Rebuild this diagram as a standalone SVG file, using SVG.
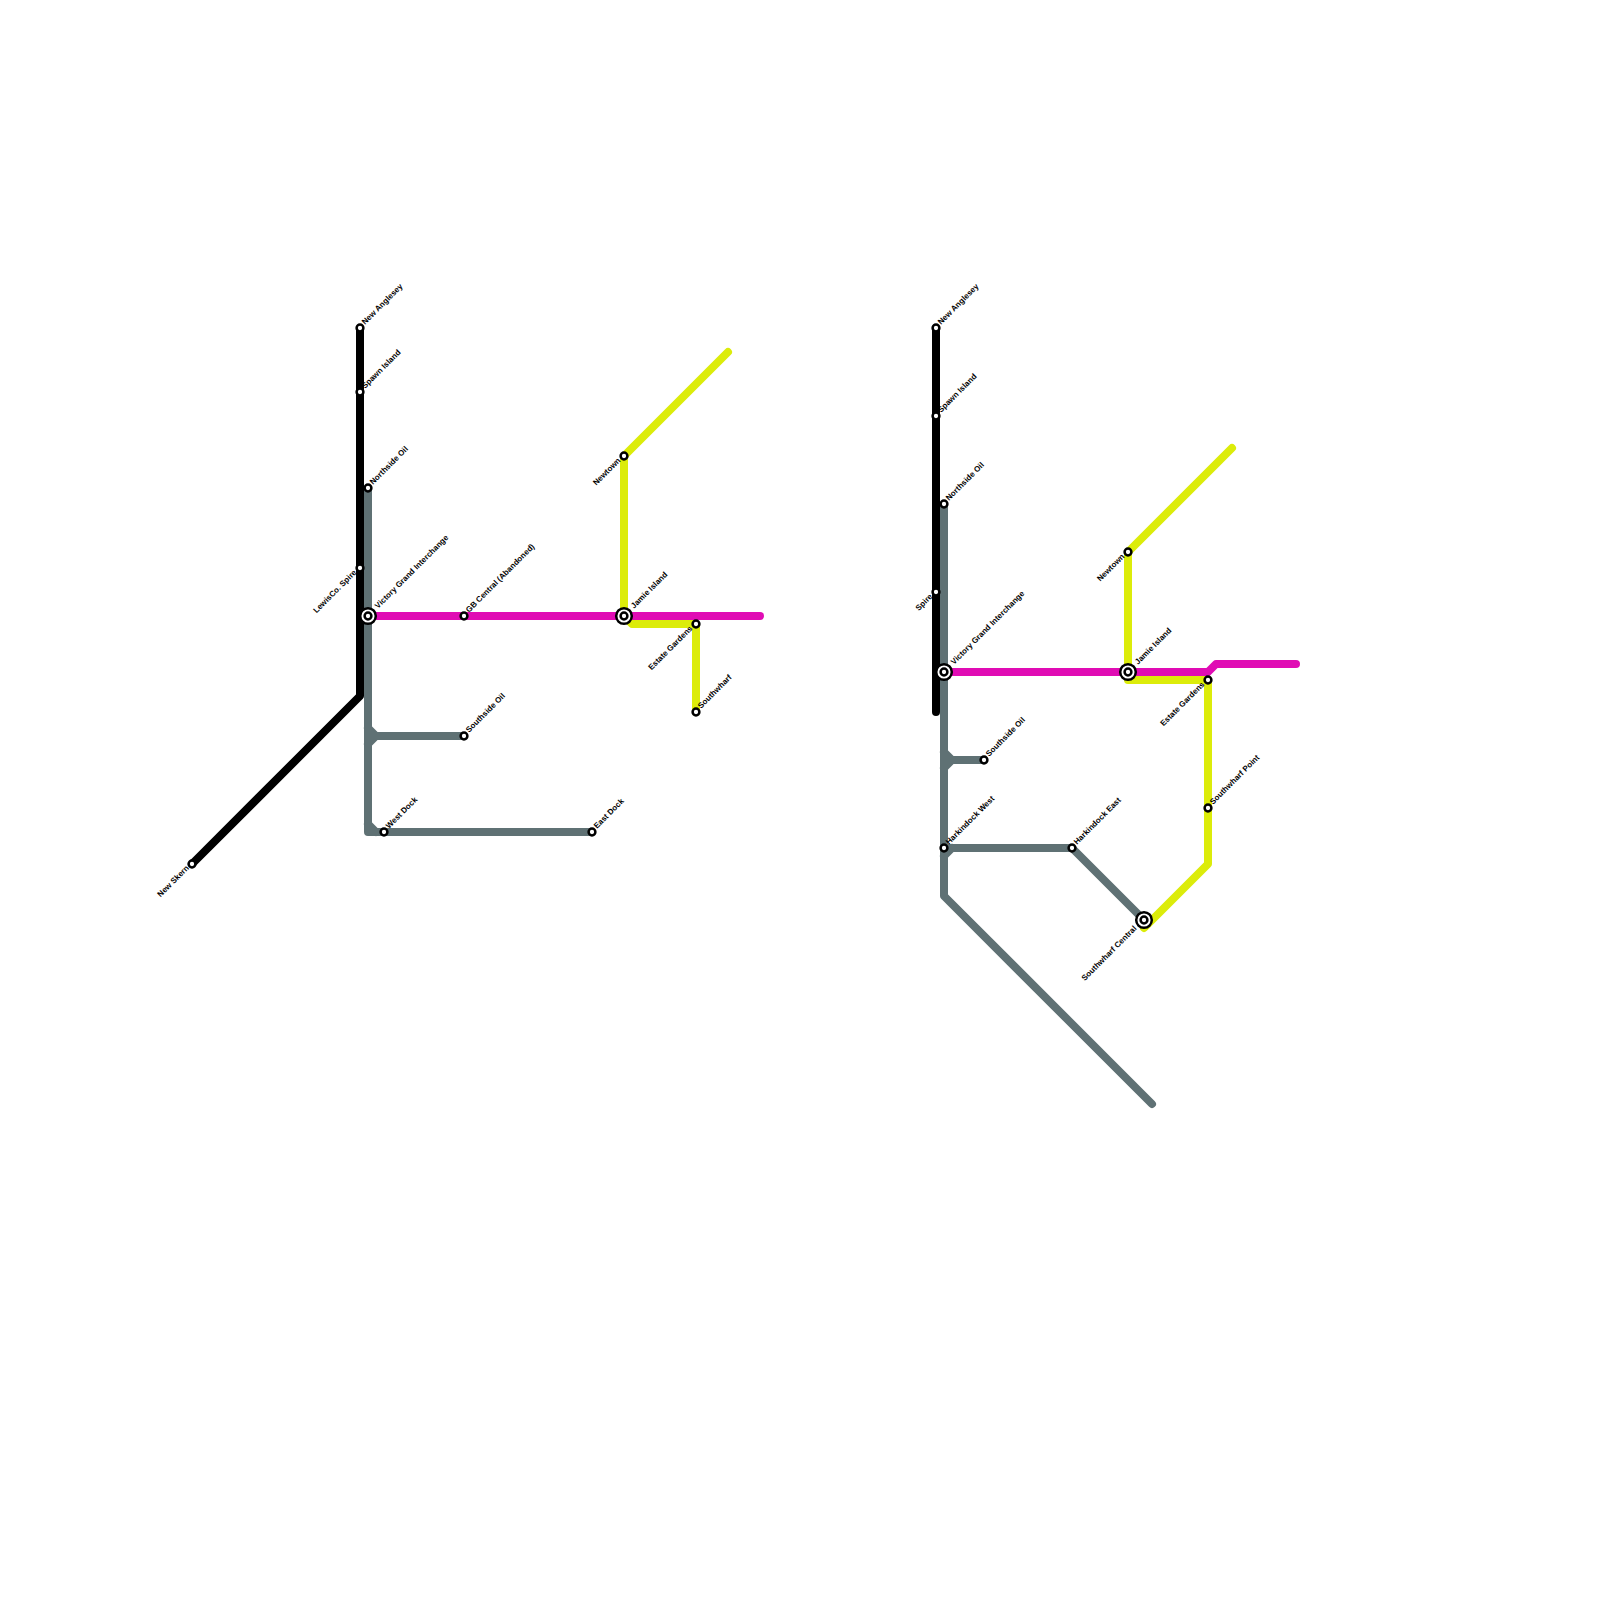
<svg xmlns="http://www.w3.org/2000/svg" width="1600" height="1600" viewBox="0 0 1600 1600">
<style>
.l{fill:none;stroke-width:8;stroke-linecap:round;stroke-linejoin:round}
.k{stroke:#000}.g{stroke:#5f7174}.m{stroke:#e00cb4}.y{stroke:#dcec0a}
.s{fill:#fff;stroke:#000;stroke-width:2.5}
text{font-family:"Liberation Sans",Arial,sans-serif;font-size:8px;font-weight:700;fill:#000;text-rendering:geometricPrecision}
.e{text-anchor:end}
</style>
<rect width="1600" height="1600" fill="#fff"/>
<g id="connectors">
<path class="l k" d="M360 328V696L192 864"/>
<path class="l g" d="M368 488V832H592M368 728L376 736H464M368 744L376 736M368 824L376 832"/>
<path class="l y" d="M728 352L624 456V616L632 624H696V712"/>
<path class="l m" d="M368 616H760"/>
<path class="l k" d="M936 328V712"/>
<path class="l g" d="M944 504V896L1152 1104M944 752L952 760H984M944 768L952 760M944 848H1072L1144 920M944 856L952 848"/>
<path class="l y" d="M1232 448L1128 552V680H1208V864L1144 928"/>
<path class="l m" d="M944 672H1208L1216 664H1296"/>
</g>
<g id="n1"><circle class="s" cx="360" cy="328" r="3.4"/><text transform="translate(365 325) rotate(-45)">New Anglesey</text></g>
<g id="n2"><circle class="s" cx="360" cy="392" r="3.4"/><text transform="translate(365 389) rotate(-45)">Spawn Island</text></g>
<g id="n3"><circle class="s" cx="368" cy="488" r="3.4"/><text transform="translate(373 485) rotate(-45)">Northside Oil</text></g>
<g id="n4"><circle class="s" cx="360" cy="568" r="3.4"/><text class="e" transform="translate(357 573) rotate(-45)">LewisCo. Spire</text></g>
<g id="n5"><circle class="s" cx="368" cy="616" r="7.8"/><circle class="s" cx="368" cy="616" r="3.4"/><text transform="translate(378 609) rotate(-45)">Victory Grand Interchange</text></g>
<g id="n6"><circle class="s" cx="464" cy="616" r="3.4"/><text transform="translate(469 613) rotate(-45)">GB Central (Abandoned)</text></g>
<g id="n7"><circle class="s" cx="624" cy="616" r="7.8"/><circle class="s" cx="624" cy="616" r="3.4"/><text transform="translate(634 609) rotate(-45)">Jamie Island</text></g>
<g id="n8"><circle class="s" cx="624" cy="456" r="3.4"/><text class="e" transform="translate(621 461) rotate(-45)">Newtown</text></g>
<g id="n9"><circle class="s" cx="696" cy="624" r="3.4"/><text class="e" transform="translate(693 629) rotate(-45)">Estate Gardens</text></g>
<g id="n10"><circle class="s" cx="696" cy="712" r="3.4"/><text transform="translate(701 709) rotate(-45)">Southwharf</text></g>
<g id="n11"><circle class="s" cx="464" cy="736" r="3.4"/><text transform="translate(469 733) rotate(-45)">Southside Oil</text></g>
<g id="n12"><circle class="s" cx="384" cy="832" r="3.4"/><text transform="translate(389 829) rotate(-45)">West Dock</text></g>
<g id="n13"><circle class="s" cx="592" cy="832" r="3.4"/><text transform="translate(597 829) rotate(-45)">East Dock</text></g>
<g id="n14"><circle class="s" cx="192" cy="864" r="3.4"/><text class="e" transform="translate(189.500 868.500) rotate(-45)">New Skern</text></g>
<g id="n15"><circle class="s" cx="936" cy="328" r="3.4"/><text transform="translate(941 325) rotate(-45)">New Anglesey</text></g>
<g id="n16"><circle class="s" cx="936" cy="416" r="3.4"/><text transform="translate(941 413) rotate(-45)">Spawn Island</text></g>
<g id="n17"><circle class="s" cx="944" cy="504" r="3.4"/><text transform="translate(949 501) rotate(-45)">Northside Oil</text></g>
<g id="n18"><circle class="s" cx="936" cy="592" r="3.4"/><text class="e" transform="translate(933 597) rotate(-45)">Spire</text></g>
<g id="n19"><circle class="s" cx="944" cy="672" r="7.8"/><circle class="s" cx="944" cy="672" r="3.4"/><text transform="translate(954 665) rotate(-45)">Victory Grand Interchange</text></g>
<g id="n20"><circle class="s" cx="1128" cy="672" r="7.8"/><circle class="s" cx="1128" cy="672" r="3.4"/><text transform="translate(1138 665) rotate(-45)">Jamie Island</text></g>
<g id="n21"><circle class="s" cx="1128" cy="552" r="3.4"/><text class="e" transform="translate(1125 557) rotate(-45)">Newtown</text></g>
<g id="n22"><circle class="s" cx="1208" cy="680" r="3.4"/><text class="e" transform="translate(1205 685) rotate(-45)">Estate Gardens</text></g>
<g id="n23"><circle class="s" cx="1208" cy="808" r="3.4"/><text transform="translate(1213 805) rotate(-45)">Southwharf Point</text></g>
<g id="n24"><circle class="s" cx="984" cy="760" r="3.4"/><text transform="translate(989 757) rotate(-45)">Southside Oil</text></g>
<g id="n25"><circle class="s" cx="944" cy="848" r="3.4"/><text transform="translate(949 845) rotate(-45)">Harkindock West</text></g>
<g id="n26"><circle class="s" cx="1072" cy="848" r="3.4"/><text transform="translate(1077 845) rotate(-45)">Harkindock East</text></g>
<g id="n27"><circle class="s" cx="1144" cy="920" r="7.8"/><circle class="s" cx="1144" cy="920" r="3.4"/><text class="e" transform="translate(1137 929) rotate(-45)">Southwharf Central</text></g>
</svg>
